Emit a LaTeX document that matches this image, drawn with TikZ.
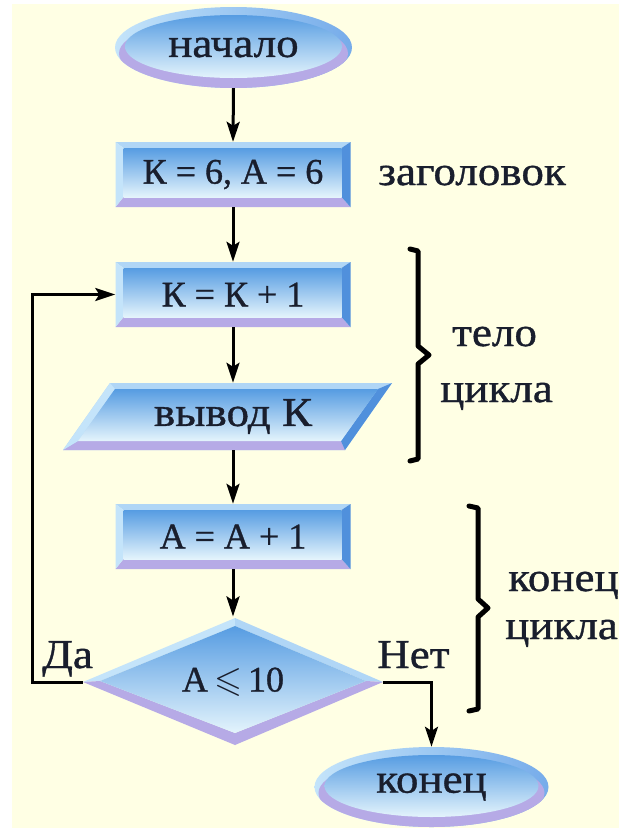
\documentclass[tikz,border=0pt]{standalone}
\usepackage{fontspec}
\setmainfont{Liberation Serif}
\newfontfamily\lblfont{Liberation Serif}[FakeStretch=1.1, FakeBold=0.9]
\newfontfamily\boxfont{Liberation Serif}[FakeBold=0.9]
\usepackage{amssymb}
\usetikzlibrary{shapes.geometric,arrows.meta}
\definecolor{bgc}{RGB}{255,255,228}
\definecolor{faceTop}{RGB}{86,156,226}
\definecolor{faceBot}{RGB}{228,244,252}
\definecolor{bevTop}{RGB}{176,214,246}
\definecolor{bevLeft}{RGB}{196,228,250}
\definecolor{bevRight}{RGB}{80,144,220}
\definecolor{rimRight}{RGB}{118,172,234}
\definecolor{bevBot}{RGB}{182,170,230}
\definecolor{ink}{RGB}{25,30,45}
\newcommand\bevbox[4]{%
 \begin{scope}[shift={(#1,#2)}]
  \pgfmathsetmacro\hw{#3/2}\pgfmathsetmacro\hh{#4/2}
  \fill[bevTop] (-\hw,-\hh) -- (\hw,-\hh) -- (\hw-9,-\hh+6) -- (-\hw+8,-\hh+6) -- cycle;
  \fill[bevBot] (-\hw,\hh) -- (\hw,\hh) -- (\hw-9,\hh-10) -- (-\hw+8,\hh-10) -- cycle;
  \fill[bevLeft] (-\hw,-\hh) -- (-\hw+8,-\hh+6) -- (-\hw+8,\hh-10) -- (-\hw,\hh) -- cycle;
  \fill[bevRight] (\hw,-\hh) -- (\hw-9,-\hh+6) -- (\hw-9,\hh-10) -- (\hw,\hh) -- cycle;
  \shade[top color=faceTop, bottom color=faceBot] (-\hw+8,-\hh+6) rectangle (\hw-9,\hh-10);
 \end{scope}}
\newcommand\bevell[4]{%
  \shade[left color=bevLeft, right color=rimRight] (#1,#2) ellipse [x radius=#3pt, y radius=#4pt];
  \begin{scope}
   \clip (#1,#2) ellipse [x radius=#3pt, y radius=#4pt];
   \fill[bevBot] (#1,#2+6) ellipse [x radius=#3pt-4pt, y radius=#4pt-4pt];
  \end{scope}
  \shade[top color=faceTop, bottom color=faceBot] (#1,#2-1) ellipse [x radius=#3pt-10pt, y radius=#4pt-9pt];
}
\tikzset{
 txt/.style={font=\boxfont\fontsize{36}{40}\selectfont, text=ink, inner sep=0pt},
 big/.style={font=\lblfont\fontsize{41}{44}\selectfont, text=ink, inner sep=0pt},
 lbl/.style={font=\lblfont\fontsize{41}{44}\selectfont, text=ink, inner sep=0pt, anchor=base west},
 arr/.style={line width=3pt, draw=black, -{Stealth[length=20pt,width=13pt,inset=4pt]}},
 brace/.style={line width=5pt, line cap=round, line join=round}
}
\begin{document}
\begin{tikzpicture}[x=1pt,y=-1pt]
\useasboundingbox (0,0) rectangle (619,828);
\fill[white] (0,0) rectangle (619,828);
\fill[bgc] (12,4) rectangle (619,828);

% shapes
\bevell{233.5}{47.5}{118.5}{40.5}
\bevbox{233}{174.5}{235}{65}
\bevbox{233}{294.5}{235}{65}
% parallelogram
\fill[bevTop] (110,383) -- (392,383) -- (345,450) -- (63,450) -- cycle;
\fill[bevBot] (63,450) -- (345,450) -- (341,441) -- (78,441) -- cycle;
\fill[bevRight] (392,383) -- (345,450) -- (341,441) -- (378,389) -- cycle;
\fill[bevLeft] (110,383) -- (115,389) -- (78,441) -- (63,450) -- cycle;
\shade[top color=faceTop, bottom color=faceBot] (115,389) -- (378,389) -- (341,441) -- (78,441) -- cycle;
\bevbox{233}{536.5}{235}{65}
% diamond
\fill[bevLeft] (83,682) -- (235,618) -- (235,626) -- (100,681) -- cycle;
\fill[bevTop] (235,618) -- (383,682) -- (366,681) -- (235,626) -- cycle;
\fill[bevBot] (383,682) -- (235,745) -- (235,733) -- (366,681) -- cycle;
\fill[bevBot] (235,745) -- (83,682) -- (100,681) -- (235,733) -- cycle;
\shade[top color=faceTop, bottom color=faceBot] (100,681) -- (235,626) -- (366,681) -- (235,733) -- cycle;
\bevell{431.5}{787}{117}{40}

% nodes
\node[big, ellipse, minimum width=237pt, minimum height=81pt] (start) at (233.5,47.5) {начало};
\node[txt, rectangle, minimum width=235pt, minimum height=65pt] (b1) at (233,174.5) {К = 6, А = 6};
\node[txt, rectangle, minimum width=235pt, minimum height=65pt] (b2) at (233,294.5) {К = К + 1};
\node[big, rectangle, minimum width=200pt, minimum height=67pt] (out) at (233,416.5) {вывод К};
\node[txt, rectangle, minimum width=235pt, minimum height=65pt] (b3) at (233,536.5) {А = А + 1};
\node[txt, diamond, minimum width=300pt, minimum height=127pt] (dec) at (233,682) {А\,$\leqslant$\,10};
\node[big, ellipse, minimum width=234pt, minimum height=80pt] (end) at (431.5,787) {конец};

\node[lbl] (zag) at (378,185) {заголовок};
\node[lbl] (t1) at (452,346) {тело};
\node[lbl] (t2) at (440,402) {цикла};
\node[lbl] (k1) at (508,591) {конец};
\node[lbl] (k2) at (505,639) {цикла};
\node[lbl] (da) at (42,668) {Да};
\node[lbl] (net) at (377,668) {Нет};

% connectors
\draw[arr] (start.south) -- (b1.north);
\draw[arr] (b1.south) -- (b2.north);
\draw[arr] (b2.south) -- (out.north);
\draw[arr] (out.south) -- (b3.north);
\draw[arr] (b3.south) -- (dec.north);
\draw[arr] (dec.west) -- ++(-50,0) |- (b2.west);
\draw[arr] (dec.east) -| (end.north);

% braces
\draw[brace] (410,249) -- (418,251) -- (418,346) -- (429,355) -- (418,364) -- (418,459) -- (410,461);
\draw[brace] (469,506) -- (478,508) -- (478,599) -- (488,608) -- (478,617) -- (478,709) -- (469,711);
\end{tikzpicture}
\end{document}
